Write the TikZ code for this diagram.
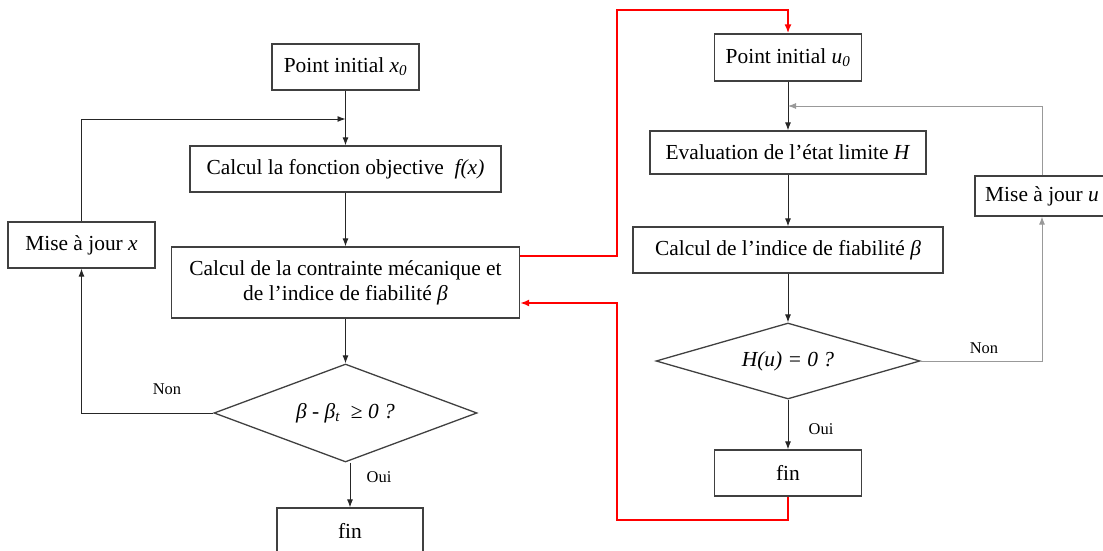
\documentclass[tikz,border=0pt]{standalone}
\usepackage{fontspec}
\setmainfont{Liberation Serif}
\usetikzlibrary{shapes.geometric,arrows.meta}
\definecolor{boxline}{gray}{0.25}
\definecolor{loopgray}{gray}{0.6}
\tikzset{
    box/.style={draw=boxline, line width=1.3bp, inner sep=0pt, minimum height=46bp, font=\fontsize{21.5}{25}\selectfont, align=center},
    test/.style={box, shape=diamond, aspect=2.7},
    lbl/.style={font=\fontsize{16.5}{18}\selectfont, inner sep=0pt},
    arr/.style={draw=black!85, line width=0.9bp, -{Latex[length=8bp,width=6bp]}},
    grayarr/.style={arr, draw=loopgray},
    redarr/.style={draw=red, line width=2.4bp, -{Latex[length=9bp,width=7bp]}},
}

\begin{document}
\begin{tikzpicture}[x=1bp, y=-1bp]
\useasboundingbox (0,0) rectangle (1103,551);
    \path
(345.5,67) node[box, minimum width=147bp](P0){Point initial \textit{x}\textsubscript{\textit{0}}}
(345.5,169) node[box, minimum width=311bp](F){Calcul la fonction objective \ \textit{f(x)}}
(345.5,282.5) node[box, minimum width=348bp, minimum height=71bp](C){Calcul de la contrainte mécanique et\\de l’indice de fiabilité \textit{β}}
(345.5,413) node[test, minimum width=263bp, minimum height=98bp](D){\textit{β} - \textit{β}\textsubscript{\textit{t}} \ ≥ \textit{0 ?}}
(81.5,245) node[box, minimum width=147bp](M){Mise à jour \textit{x}}
(350,531) node[box, minimum width=146bp](fin1){fin}
(345.5,119) coordinate(j1)
;
    \path
(788,57.5) node[box, minimum width=147bp, minimum height=47bp](P1){Point initial \textit{u}\textsubscript{\textit{0}}}
(788,152.5) node[box, minimum width=276bp, minimum height=43bp](E){Evaluation de l’état limite \textit{H}}
(788,250) node[box, minimum width=310bp](B){Calcul de l’indice de fiabilité \textit{β}}
(788,361) node[test, minimum width=264bp, minimum height=76bp](D2){\textit{H(u) = 0 ?}}
(1042,196) node[box, minimum width=134bp, minimum height=40bp](M2){Mise à jour \textit{u}}
(788,473) node[box, minimum width=147bp](fin2){fin}
(788,106) coordinate(j2)
(617,10) coordinate(r1)
(617,520) coordinate(r2)
;
    \path
(167,389) node[lbl](non1){Non}
(379,477) node[lbl](oui1){Oui}
(984,348) node[lbl](non2){Non}
(821,429) node[lbl](oui2){Oui}
;
    \draw[arr] (P0) -- (F);
    \draw[arr] (F) -- (C);
    \draw[arr] (C) -- (D);
    \draw[arr] (fin1.north |- D.south) -- (fin1.north);
    \draw[arr] (D.west) -| (M.south);
    \draw[arr] (M.north) |- (j1);
    \draw[arr] (P1) -- (E);
    \draw[arr] (E) -- (B);
    \draw[arr] (B) -- (D2);
    \draw[arr] (D2) -- (fin2);
    \draw[grayarr] (D2.east) -| (M2.south);
    \draw[grayarr] (M2.north) |- (j2);
    \draw[redarr] ([yshift=26.5bp]C.east) -| (r1) -| (P1.north);
    \draw[redarr] (fin2.south) |- (r2) |- ([yshift=-20.5bp]C.east);
\end{tikzpicture}
\end{document}
